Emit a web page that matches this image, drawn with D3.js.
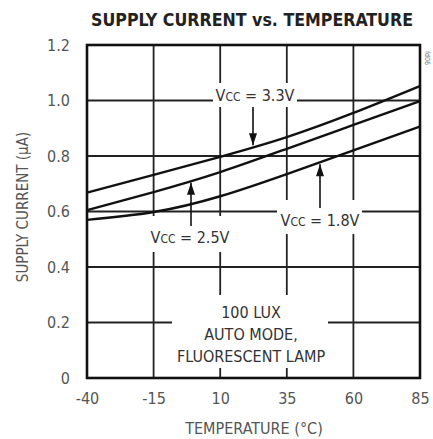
<!DOCTYPE html>
<html>
<head>
<meta charset="utf-8">
<title>Supply Current vs. Temperature</title>
<script src="https://d3js.org/d3.v7.min.js"></script>
<style>
  body { margin: 0; background: #fff; }
  text { font-family: "DejaVu Sans Condensed", "DejaVu Sans", sans-serif; font-stretch: condensed; }
</style>
</head>
<body>
<svg id="chart"></svg>
<script>
// data
const temps = [-40, -15, 10, 35, 60, 85];
const yTicks = [0, 0.2, 0.4, 0.6, 0.8, 1.0, 1.2];
const vcc33 = [0.668, 0.732, 0.797, 0.868, 0.955, 1.052];
const vcc25 = [0.605, 0.67, 0.742, 0.826, 0.912, 0.998];
const vcc18 = [0.57, 0.598, 0.655, 0.735, 0.82, 0.906];

const width = 433, height = 439;
const m = {left: 87, right: 13, top: 45, bottom: 61};

const svg = d3.select('#chart').attr('width', width).attr('height', height);

const x = d3.scaleLinear().domain([-40, 85]).range([m.left, width - m.right]);
const y = d3.scaleLinear().domain([0, 1.2]).range([height - m.bottom, m.top]);

// grid
const grid = svg.append('g').attr('stroke', '#222').attr('stroke-width', 1.8);
grid.selectAll('.vg').data(temps.slice(1, -1)).enter().append('line')
  .attr('x1', d => x(d)).attr('x2', d => x(d))
  .attr('y1', y(1.2)).attr('y2', y(0));
grid.selectAll('.hg').data(yTicks.slice(1, -1)).enter().append('line')
  .attr('x1', x(-40)).attr('x2', x(85))
  .attr('y1', d => y(d)).attr('y2', d => y(d));

// curves
const line = d3.line().x((d, i) => x(temps[i])).y(d => y(d)).curve(d3.curveNatural);
[vcc33, vcc25, vcc18].forEach(s => {
  svg.append('path').datum(s).attr('d', line)
    .attr('fill', 'none').attr('stroke', '#111').attr('stroke-width', 2.4);
});

// label boxes knock out the grid
function box(x0, y0, x1, y1) {
  svg.append('rect').attr('x', x0).attr('y', y0)
    .attr('width', x1 - x0).attr('height', y1 - y0).attr('fill', '#fff');
}
box(213, 83, 297, 107);
box(150, 216, 230, 252);
box(277, 200, 362, 234);
box(172, 295, 328, 368);

// frame
svg.append('rect').attr('x', x(-40)).attr('y', y(1.2))
  .attr('width', x(85) - x(-40)).attr('height', y(0) - y(1.2))
  .attr('fill', 'none').attr('stroke', '#111').attr('stroke-width', 2.6);

// axes
const xAxis = svg.append('g').attr('transform', `translate(0,${y(0)})`)
  .call(d3.axisBottom(x).tickValues(temps).tickSize(0).tickPadding(15).tickFormat(d3.format('d')));
const yAxis = svg.append('g').attr('transform', `translate(${x(-40)},0)`)
  .call(d3.axisLeft(y).tickValues(yTicks).tickSize(0).tickPadding(17)
    .tickFormat(d => d === 0 ? '0' : d3.format('.1f')(d)));
[xAxis, yAxis].forEach(a => {
  a.select('.domain').remove();
  a.selectAll('text').attr('font-size', 16).attr('fill', '#555')
    .style('font-family', '"DejaVu Sans Condensed", "DejaVu Sans", sans-serif');
});
xAxis.selectAll('text').text(d => d < 0 ? '-' + Math.abs(d) : d);

// titles
svg.append('text').attr('x', 252).attr('y', 26).attr('text-anchor', 'middle')
  .attr('font-size', 18).attr('font-weight', 'bold').attr('fill', '#222')
  .attr('textLength', 322).attr('lengthAdjust', 'spacingAndGlyphs')
  .text('SUPPLY CURRENT vs. TEMPERATURE');
svg.append('text').attr('x', 254).attr('y', 434).attr('text-anchor', 'middle')
  .attr('font-size', 16).attr('fill', '#555').text('TEMPERATURE (°C)');
svg.append('text').attr('transform', 'translate(28,207) rotate(-90)')
  .attr('text-anchor', 'middle').attr('font-size', 15).attr('fill', '#555')
  .text('SUPPLY CURRENT (µA)');
svg.append('text').attr('transform', 'translate(425,58) rotate(90)')
  .attr('text-anchor', 'middle').attr('font-size', 7).attr('fill', '#777').text('fd06');

// VCC labels with arrows
function vccLabel(cx, cy, v) {
  const t = svg.append('text').attr('x', cx).attr('y', cy).attr('text-anchor', 'middle')
    .attr('font-size', 16).attr('fill', '#333');
  t.append('tspan').text('V');
  t.append('tspan').attr('font-size', 12).text('CC');
  t.append('tspan').text(' = ' + v);
}
vccLabel(255, 101, '3.3V');
vccLabel(190, 243, '2.5V');
vccLabel(320, 226, '1.8V');

function arrow(ax, fromY, tipY) {
  svg.append('line').attr('x1', ax).attr('x2', ax).attr('y1', fromY).attr('y2', tipY)
    .attr('stroke', '#111').attr('stroke-width', 1.6);
  const dir = tipY > fromY ? -1 : 1;
  svg.append('path')
    .attr('d', `M${ax},${tipY} L${ax - 4},${tipY + dir * 12} L${ax + 4},${tipY + dir * 12} Z`)
    .attr('fill', '#111');
}
// arrow tips sit on the curve at the arrow's x
function curveAt(s, px) {
  const t = x.invert(px);
  const i = Math.min(d3.bisectRight(temps, t) - 1, temps.length - 2);
  const f = (t - temps[i]) / (temps[i + 1] - temps[i]);
  return y(s[i] + f * (s[i + 1] - s[i]));
}
arrow(253, 107, curveAt(vcc33, 253) - 2);
arrow(191, 226, curveAt(vcc25, 191) + 2);
arrow(320, 208, curveAt(vcc18, 320) + 2);

// conditions note
const note = ['100 LUX', 'AUTO MODE,', 'FLUORESCENT LAMP'];
svg.append('g').selectAll('text').data(note).enter().append('text')
  .attr('x', 251).attr('y', (d, i) => 318 + i * 22).attr('text-anchor', 'middle')
  .attr('font-size', 16).attr('fill', '#333').text(d => d);
</script>
</body>
</html>
